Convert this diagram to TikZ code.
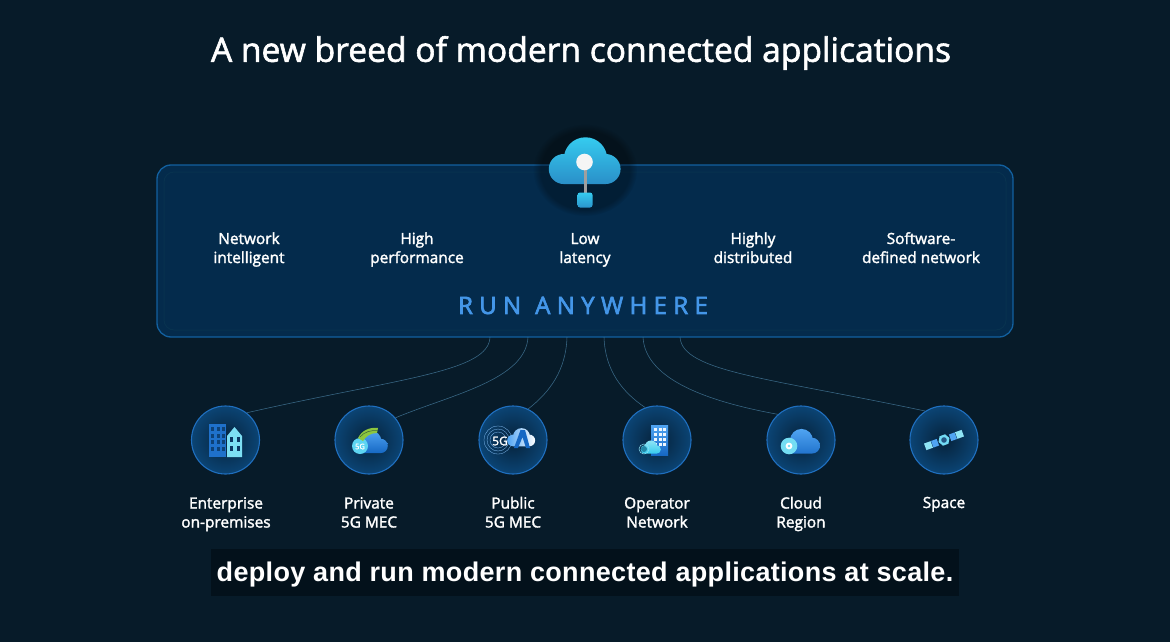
\documentclass[tikz,border=0pt]{standalone}
\usepackage{fontspec}
\setmainfont[FakeBold=1.8]{Open Sans}
\newfontfamily\labfont[FakeBold=1.9]{Open Sans}
\newfontfamily\runfont[FakeBold=2.6,LetterSpace=26.5]{Open Sans}
\newfontfamily\capfont[LetterSpace=1.2]{Liberation Sans}
\usetikzlibrary{shadings,fadings,calc}
\definecolor{bgc}{HTML}{071B29}
\definecolor{capc}{HTML}{03111B}
\definecolor{panelc}{HTML}{042B4C}
\definecolor{panelin}{HTML}{08324F}
\definecolor{edgec}{HTML}{12609F}
\definecolor{linkc}{HTML}{3A6A88}
\definecolor{ringc}{HTML}{1F6FBF}
\definecolor{discin}{HTML}{06223A}
\definecolor{discout}{HTML}{0B4474}
\definecolor{runc}{HTML}{4496E8}
\definecolor{skya}{HTML}{35CBEF}
\definecolor{skyb}{HTML}{2A8FC8}
\definecolor{bluea}{HTML}{50A4F2}
\definecolor{blueb}{HTML}{1668C4}
\definecolor{lighta}{HTML}{8FE4F5}
\definecolor{greenc}{HTML}{8DC63F}
\newcommand{\st}{\rule[-5pt]{0pt}{19pt}}
\tikzset{
  lab/.style={text=white,align=center,font=\labfont\fontsize{15.4}{19}\selectfont,inner sep=0pt},
  disc/.style={circle,draw=ringc,line width=1.1pt,minimum size=68pt,inner sep=0pt,inner color=discin,outer color=discout},
  link/.style={draw=linkc,line width=0.55pt},
}
\newcommand{\cloudbody}{(-13,3) circle (9) (0,-3) circle (13) (12,3) circle (9) (12,5) rectangle (-13,12)}
\begin{document}
\begin{tikzpicture}[x=1pt,y=-1pt]
\useasboundingbox (0,0) rectangle (1170,642);
\fill[bgc] (0,0) rectangle (1170,642);
% title
\node[name=title,text=white,inner sep=0pt,font=\fontsize{33.6}{38}\selectfont] at (581,53) {A new breed of modern connected applications};
% panel
\node[name=panel,draw=edgec,line width=1.3pt,fill=panelc,rounded corners=14pt,minimum width=856pt,minimum height=172pt,inner sep=0pt] at (585,251) {};
\draw[panelin,line width=1pt,rounded corners=10pt] (164,172) rectangle (1006,330);
% cloud icon
\fill[black,opacity=.3,path fading=circle with fuzzy edge 15 percent] (585,170) ellipse (52 and 46);
\begin{scope}[shift={(585.5,164)},scale=1.67]
\path[top color=skya,bottom color=skyb] \cloudbody;
\end{scope}
\draw[gray!75!white,line width=3pt] (585,162) -- (585,195);
\fill[white!92!gray] (584.5,162) circle (8.3);
\path[top color=skya,bottom color=skyb!90!skya,rounded corners=2.5pt] (577.5,192.5) rectangle (592.5,207.5);
% feature texts
\node[lab,name=f1] at (249,249) {Network\st\\intelligent\st};
\node[lab,name=f2] at (417,249) {High\st\\performance\st};
\node[lab,name=f3] at (585,249) {Low\st\\latency\st};
\node[lab,name=f4] at (753,249) {Highly\st\\distributed\st};
\node[lab,name=f5] at (921,249) {Software-\st\\defined network\st};
\node[name=run,text=runc,inner sep=0pt,font=\runfont\fontsize{24}{28}\selectfont] at (583,305.5) {RUN\hspace{14pt}ANYWHERE};
% discs
\node[disc,name=d1] at (225.5,440) {};
\node[disc,name=d2] at (369,440) {};
\node[disc,name=d3] at (513,440) {};
\node[disc,name=d4] at (657,440) {};
\node[disc,name=d5] at (801,440) {};
\node[disc,name=d6] at (944,440) {};
% connectors
\coordinate (p1) at (490,337);
\coordinate (p2) at (528,337);
\coordinate (p3) at (567,337);
\coordinate (p4) at (604,337);
\coordinate (p5) at (643,337);
\coordinate (p6) at (680,337);
\draw[link] (p1) .. controls (489,372) and (400,378) .. (d1.52);
\draw[link] (p2) .. controls (526,380) and (450,395) .. (d2.40);
\draw[link] (p3) .. controls (566,370) and (550,392) .. (d3.64);
\draw[link] (p4) .. controls (605,370) and (622,392) .. (d4.110);
\draw[link] (p5) .. controls (645,380) and (710,402) .. (d5.132);
\draw[link] (p6) .. controls (682,372) and (770,378) .. (d6.123);
% enterprise icon
\fill[blueb!85!bluea] (209,424) rectangle (226,457);
\foreach \xx in {211,216.5,221.5}{\foreach \yy in {427,433.5,440,446.5}{\fill[blueb!45!discin] (\xx,\yy) rectangle +(3,4);}}
\fill[lighta!80!skya] (227,436) -- (234.5,427) -- (242,436) -- (242,457) -- (227,457) -- cycle;
\foreach \xx in {230,236.5}{\foreach \yy in {437,446}{\fill[discin!70!blueb] (\xx,\yy) rectangle +(3,5);}}
% private 5G icon
\begin{scope}[shift={(371,443.5)},scale=0.8]
\path[top color=bluea,bottom color=blueb] \cloudbody;
\end{scope}
\fill[skya!80!white] (360,446) circle (8);
\fill[greenc] (358,438) .. controls (362,430) and (370,427) .. (378,428) -- (377,433) .. controls (371,433) and (366,436) .. (363,441) -- cycle;
\draw[discin!60!greenc,line width=.5pt] (360,437) .. controls (364,432) and (371,430) .. (378,430.5);
\node[name=g1,text=white,inner sep=0pt,font=\labfont\fontsize{7.5}{8}\selectfont] at (360,446.5) {5G};
% public 5G icon
\foreach \rr in {8,11,14}{\draw[bluea!70!white,line width=.3pt] (498,440) circle (\rr);}
\begin{scope}[shift={(521.5,438.5)},scale=0.65]
\path[left color=bluea,right color=white] \cloudbody;
\end{scope}
\fill[blueb] (514,448) -- (520.5,430) -- (525,430) -- (530,448) -- (526,448) -- (522.5,437) -- (518,448) -- cycle;
\node[name=g2,text=white,inner sep=0pt,font=\labfont\fontsize{12}{13}\selectfont] at (500,441) {5G};
% operator icon
\path[top color=bluea,bottom color=blueb] (651,425) rectangle (668,455);
\foreach \xx in {653.5,658.5,663}{\foreach \yy in {428,433,438,443}{\fill[white!90!bluea] (\xx,\yy) rectangle +(3,3.2);}}
\begin{scope}[shift={(651,448)},scale=0.47]
\path[top color=lighta,bottom color=skya] \cloudbody;
\end{scope}
\fill[skya!60!discin] (644,449) circle (3);
\draw[lighta,line width=.5pt] (644,449) circle (5);
% cloud region icon
\begin{scope}[shift={(801.5,443)},scale=0.88]
\path[top color=bluea,bottom color=blueb!80!bluea] \cloudbody;
\end{scope}
\fill[lighta!70!skya] (789,446) circle (8.3);
\fill[white] (789,446) circle (3.4);
\fill[lighta!70!skya] (789,446) circle (1.4);
% space icon
\begin{scope}[shift={(944,440)},rotate=20]
\fill[lighta] (-20,-3.5) rectangle (-13,3.5);
\fill[bluea] (-12.5,-3.5) rectangle (-6.5,3.5);
\fill[bluea] (6.5,-3.5) rectangle (12.5,3.5);
\fill[lighta] (13,-3.5) rectangle (20,3.5);
\fill[skya!70!white] (0:5.8) -- (60:5.8) -- (120:5.8) -- (180:5.8) -- (240:5.8) -- (300:5.8) -- cycle;
\fill[discin!60!bluea] (0,0) circle (2.8);
\end{scope}
% labels under discs
\node[lab,name=l1] at (226,513.5) {Enterprise\st\\on-premises\st};
\node[lab,name=l2] at (369,513.5) {Private\st\\5G MEC\st};
\node[lab,name=l3] at (513,513.5) {Public\st\\5G MEC\st};
\node[lab,name=l4] at (657,513.5) {Operator\st\\Network\st};
\node[lab,name=l5] at (801,513.5) {Cloud\st\\Region\st};
\node[lab,name=l6] at (944,503.5) {Space\st};
% caption
\node[name=cap,fill=capc,text=white,minimum width=748pt,minimum height=47pt,inner sep=0pt,font=\capfont\bfseries\fontsize{27}{30}\selectfont] at (585,572.5) {\rule{0pt}{24pt}deploy and run modern connected applications at scale.};
\end{tikzpicture}
\end{document}
